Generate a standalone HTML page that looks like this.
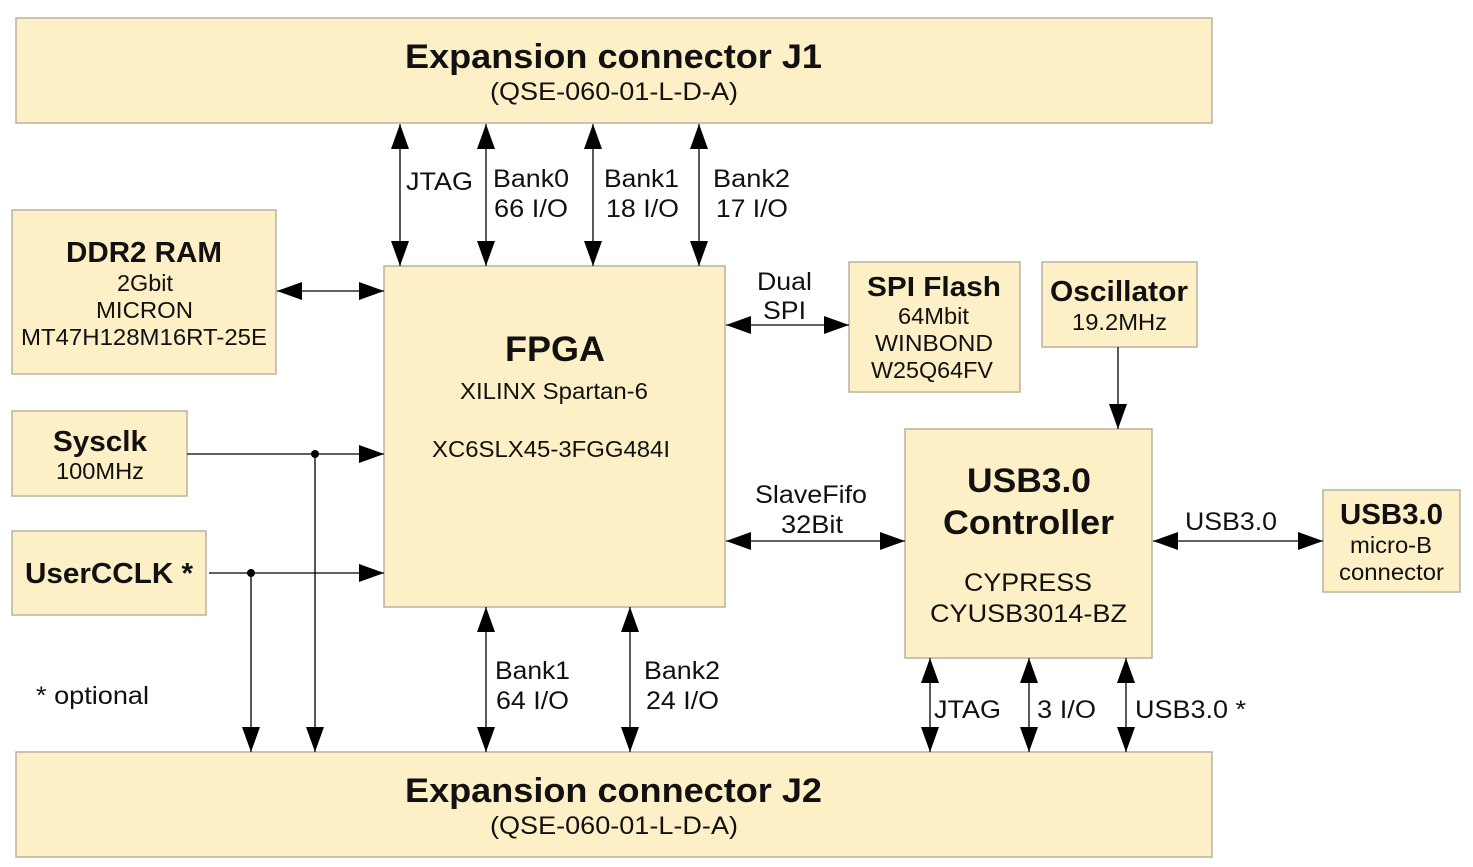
<!DOCTYPE html>
<html><head><meta charset="utf-8"><style>
html,body{margin:0;padding:0;background:#fff}
svg{display:block}
text{font-family:"Liberation Sans",Arial,sans-serif;fill:#111}
.b{font-weight:bold}
rect{fill:#fdefc6;stroke:#b8b2a0;stroke-width:1.5}
line{stroke:#000;stroke-width:1.3}
</style></head><body>
<svg width="1473" height="867" viewBox="0 0 1473 867">
<defs>
<marker id="a" markerUnits="userSpaceOnUse" markerWidth="26" markerHeight="18" refX="25" refY="9" orient="auto-start-reverse"><path d="M0,0 L25,9 L0,18 Z" fill="#000"/></marker>
</defs>
<g lengthAdjust="spacingAndGlyphs">
<rect x="16" y="18" width="1196" height="105"/>
<text x="405" y="68" font-size="34" class="b" textLength="417" lengthAdjust="spacingAndGlyphs">Expansion connector J1</text>
<text x="490" y="100" font-size="25" textLength="248" lengthAdjust="spacingAndGlyphs">(QSE-060-01-L-D-A)</text>

<rect x="12" y="210" width="264" height="164"/>
<text x="66" y="262" font-size="29" class="b" textLength="156" lengthAdjust="spacingAndGlyphs">DDR2 RAM</text>
<text x="117" y="291" font-size="23" textLength="56" lengthAdjust="spacingAndGlyphs">2Gbit</text>
<text x="96" y="318" font-size="23" textLength="97" lengthAdjust="spacingAndGlyphs">MICRON</text>
<text x="21" y="345" font-size="23" textLength="246" lengthAdjust="spacingAndGlyphs">MT47H128M16RT-25E</text>

<rect x="384" y="266" width="341" height="341"/>
<text x="505" y="361" font-size="35" class="b" textLength="100" lengthAdjust="spacingAndGlyphs">FPGA</text>
<text x="460" y="399" font-size="23" textLength="188" lengthAdjust="spacingAndGlyphs">XILINX Spartan-6</text>
<text x="432" y="457" font-size="23" textLength="238" lengthAdjust="spacingAndGlyphs">XC6SLX45-3FGG484I</text>

<rect x="849" y="262" width="171" height="130"/>
<text x="867" y="296" font-size="28" class="b" textLength="134" lengthAdjust="spacingAndGlyphs">SPI Flash</text>
<text x="898" y="324" font-size="23" textLength="71" lengthAdjust="spacingAndGlyphs">64Mbit</text>
<text x="875" y="351" font-size="23" textLength="118" lengthAdjust="spacingAndGlyphs">WINBOND</text>
<text x="871" y="378" font-size="23" textLength="122" lengthAdjust="spacingAndGlyphs">W25Q64FV</text>

<rect x="1042" y="262" width="155" height="85"/>
<text x="1050" y="301" font-size="29" class="b" textLength="138" lengthAdjust="spacingAndGlyphs">Oscillator</text>
<text x="1072" y="330" font-size="23" textLength="95" lengthAdjust="spacingAndGlyphs">19.2MHz</text>

<rect x="12" y="411" width="175" height="85"/>
<text x="53" y="451" font-size="29" class="b" textLength="94" lengthAdjust="spacingAndGlyphs">Sysclk</text>
<text x="56" y="479" font-size="23" textLength="88" lengthAdjust="spacingAndGlyphs">100MHz</text>

<rect x="12" y="531" width="194" height="84"/>
<text x="25" y="583" font-size="29" class="b" textLength="168" lengthAdjust="spacingAndGlyphs">UserCCLK *</text>

<rect x="905" y="429" width="247" height="229"/>
<text x="967" y="492" font-size="34" class="b" textLength="124" lengthAdjust="spacingAndGlyphs">USB3.0</text>
<text x="943" y="534" font-size="34" class="b" textLength="171" lengthAdjust="spacingAndGlyphs">Controller</text>
<text x="964" y="591" font-size="25" textLength="128" lengthAdjust="spacingAndGlyphs">CYPRESS</text>
<text x="930" y="622" font-size="25" textLength="197" lengthAdjust="spacingAndGlyphs">CYUSB3014-BZ</text>

<rect x="1323" y="490" width="137" height="102"/>
<text x="1340" y="524" font-size="29" class="b" textLength="103" lengthAdjust="spacingAndGlyphs">USB3.0</text>
<text x="1350" y="553" font-size="23" textLength="82" lengthAdjust="spacingAndGlyphs">micro-B</text>
<text x="1339" y="580" font-size="23" textLength="105" lengthAdjust="spacingAndGlyphs">connector</text>

<rect x="16" y="752" width="1196" height="105"/>
<text x="405" y="802" font-size="34" class="b" textLength="417" lengthAdjust="spacingAndGlyphs">Expansion connector J2</text>
<text x="490" y="834" font-size="25" textLength="248" lengthAdjust="spacingAndGlyphs">(QSE-060-01-L-D-A)</text>

<line x1="400" y1="124" x2="400" y2="266" marker-start="url(#a)" marker-end="url(#a)"/>
<line x1="486" y1="124" x2="486" y2="266" marker-start="url(#a)" marker-end="url(#a)"/>
<line x1="593" y1="124" x2="593" y2="266" marker-start="url(#a)" marker-end="url(#a)"/>
<line x1="699" y1="124" x2="699" y2="266" marker-start="url(#a)" marker-end="url(#a)"/>
<g font-size="25">
<text x="406" y="190" textLength="67" lengthAdjust="spacingAndGlyphs">JTAG</text>
<text x="493" y="187" textLength="76" lengthAdjust="spacingAndGlyphs">Bank0</text><text x="494" y="217" textLength="74" lengthAdjust="spacingAndGlyphs">66 I/O</text>
<text x="604" y="187" textLength="75" lengthAdjust="spacingAndGlyphs">Bank1</text><text x="606" y="217" textLength="73" lengthAdjust="spacingAndGlyphs">18 I/O</text>
<text x="713" y="187" textLength="77" lengthAdjust="spacingAndGlyphs">Bank2</text><text x="716" y="217" textLength="72" lengthAdjust="spacingAndGlyphs">17 I/O</text>
</g>

<line x1="277" y1="291" x2="384" y2="291" marker-start="url(#a)" marker-end="url(#a)"/>
<line x1="726" y1="325" x2="849" y2="325" marker-start="url(#a)" marker-end="url(#a)"/>
<text x="757" y="290" font-size="25" textLength="55" lengthAdjust="spacingAndGlyphs">Dual</text>
<text x="763" y="319" font-size="25" textLength="43" lengthAdjust="spacingAndGlyphs">SPI</text>

<line x1="1118" y1="347" x2="1118" y2="429" marker-end="url(#a)"/>

<line x1="187" y1="454" x2="384" y2="454" marker-end="url(#a)"/>
<circle cx="315" cy="454" r="4" fill="#000"/>
<line x1="315" y1="454" x2="315" y2="752" marker-end="url(#a)"/>
<line x1="209" y1="573" x2="384" y2="573" marker-end="url(#a)"/>
<circle cx="251" cy="573" r="4" fill="#000"/>
<line x1="251" y1="573" x2="251" y2="752" marker-end="url(#a)"/>
<text x="36" y="704" font-size="25" textLength="113" lengthAdjust="spacingAndGlyphs">* optional</text>

<line x1="726" y1="541" x2="905" y2="541" marker-start="url(#a)" marker-end="url(#a)"/>
<text x="755" y="503" font-size="25" textLength="112" lengthAdjust="spacingAndGlyphs">SlaveFifo</text>
<text x="781" y="533" font-size="25" textLength="62" lengthAdjust="spacingAndGlyphs">32Bit</text>

<line x1="1153" y1="541" x2="1323" y2="541" marker-start="url(#a)" marker-end="url(#a)"/>
<text x="1185" y="530" font-size="25" textLength="92" lengthAdjust="spacingAndGlyphs">USB3.0</text>

<line x1="486" y1="607" x2="486" y2="752" marker-start="url(#a)" marker-end="url(#a)"/>
<line x1="630" y1="607" x2="630" y2="752" marker-start="url(#a)" marker-end="url(#a)"/>
<text x="495" y="679" font-size="25" textLength="75" lengthAdjust="spacingAndGlyphs">Bank1</text><text x="496" y="709" font-size="25" textLength="73" lengthAdjust="spacingAndGlyphs">64 I/O</text>
<text x="644" y="679" font-size="25" textLength="76" lengthAdjust="spacingAndGlyphs">Bank2</text><text x="646" y="709" font-size="25" textLength="73" lengthAdjust="spacingAndGlyphs">24 I/O</text>

<line x1="930" y1="658" x2="930" y2="752" marker-start="url(#a)" marker-end="url(#a)"/>
<line x1="1029" y1="658" x2="1029" y2="752" marker-start="url(#a)" marker-end="url(#a)"/>
<line x1="1126" y1="658" x2="1126" y2="752" marker-start="url(#a)" marker-end="url(#a)"/>
<g font-size="25">
<text x="934" y="718" textLength="67" lengthAdjust="spacingAndGlyphs">JTAG</text>
<text x="1037" y="718" textLength="59" lengthAdjust="spacingAndGlyphs">3 I/O</text>
<text x="1135" y="718" textLength="111" lengthAdjust="spacingAndGlyphs">USB3.0 *</text>
</g>
</g>
</svg>
</body></html>
